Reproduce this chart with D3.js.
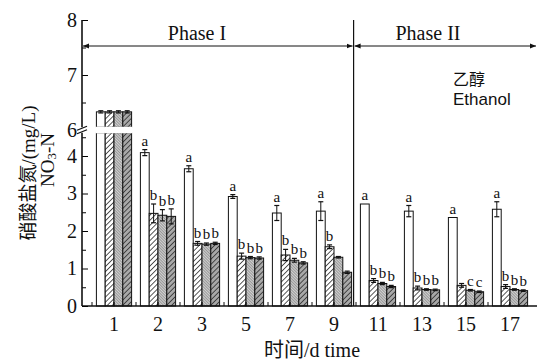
<!DOCTYPE html>
<html>
<head>
<meta charset="utf-8">
<script src="https://cdn.jsdelivr.net/npm/d3@7"></script>
<style>
  body { margin: 0; background: #fff; }
  svg { display: block; }
  text { font-family: "Liberation Serif", "Noto Sans CJK SC", serif; fill: #111; }
</style>
</head>
<body>
<svg width="537" height="363"></svg>
<script>
const days = ["1", "2", "3", "5", "7", "9", "11", "13", "15", "17"];
const keys = ["s1", "s2", "s3", "s4"];

const s1 = [6.33, 4.09, 3.66, 2.92, 2.48, 2.53, 2.72, 2.53, 2.36, 2.58];
const s2 = [6.33, 2.47, 1.67, 1.33, 1.36, 1.58, 0.68, 0.48, 0.55, 0.52];
const s3 = [6.33, 2.42, 1.65, 1.29, 1.22, 1.30, 0.60, 0.44, 0.42, 0.44];
const s4 = [6.33, 2.39, 1.67, 1.28, 1.15, 0.90, 0.52, 0.43, 0.38, 0.41];

const e1 = [0.02, 0.08, 0.08, 0.05, 0.2, 0.25, 0, 0.15, 0, 0.2];
const e2 = [0.02, 0.25, 0.05, 0.08, 0.15, 0.05, 0.05, 0.05, 0.05, 0.05];
const e3 = [0.02, 0.15, 0.03, 0.03, 0.05, 0.02, 0.03, 0.02, 0.02, 0.02];
const e4 = [0.02, 0.2, 0.03, 0.03, 0.03, 0.03, 0.03, 0.02, 0.02, 0.02];

const lab1 = ["", "a", "a", "a", "a", "a", "a", "a", "a", "a"];
const lab2 = ["", "b", "b", "b", "b", "b", "b", "b", "", "b"];
const lab3 = ["", "b", "b", "b", "b", "", "b", "b", "c", "b"];
const lab4 = ["", "b", "b", "b", "b", "", "b", "b", "c", "b"];

const lowTicks = [0, 1, 2, 3, 4];
const lowMinor = [0.5, 1.5, 2.5, 3.5, 4.5];
const highTicks = [6, 7, 8];
const highMinor = [6.5, 7.5];

const vals = [s1, s2, s3, s4];
const errs = [e1, e2, e3, e4];
const labs = [lab1, lab2, lab3, lab4];

const data = days.map((d, i) => ({
  day: d,
  bars: keys.map((k, j) => ({ key: k, day: d, value: vals[j][i], err: errs[j][i], lab: labs[j][i] }))
}));

const svg = d3.select("svg");
const left = 82, right = 537, bottom = 306;

// broken y axis
const LOWMAX = 4.62, HIGHMIN = 6.05;
const yLow = d3.scaleLinear().domain([0, LOWMAX]).range([bottom, bottom - LOWMAX * 37.5]);
const yHigh = d3.scaleLinear().domain([7, 8]).range([75, 20]);
const y = v => (v <= LOWMAX ? yLow(v) : yHigh(v));

const x = d3.scaleBand().domain(days).range([92, 532]).paddingInner(0.2).paddingOuter(0.1);
const xs = d3.scaleBand().domain(keys).range([0, x.bandwidth()]);

// patterns
const defs = svg.append("defs");
function hatch(id, bg, color, w, sw, angle) {
  const p = defs.append("pattern").attr("id", id)
    .attr("patternUnits", "userSpaceOnUse")
    .attr("width", w).attr("height", w)
    .attr("patternTransform", `rotate(${angle})`);
  p.append("rect").attr("width", w).attr("height", w).attr("fill", bg);
  p.append("line").attr("x1", 0).attr("y1", 0).attr("x2", 0).attr("y2", w)
    .attr("stroke", color).attr("stroke-width", sw);
}
hatch("p2", "#fff", "#111", 3.6, 1.4, 45);
hatch("p3", "#d0d0d0", "#555", 2, 0.9, -45);
hatch("p4", "#a8a8a8", "#111", 3.6, 1.3, 45);
const fills = { s1: "#fff", s2: "url(#p2)", s3: "url(#p3)", s4: "url(#p4)" };

// bars
const groups = svg.append("g").selectAll("g")
  .data(data).join("g")
  .attr("transform", d => `translate(${x(d.day)},0)`);

groups.each(function (g) {
  const sel = d3.select(this);
  g.bars.forEach(b => {
    const bx = xs(b.key), bw = xs.bandwidth();
    if (b.value > LOWMAX) {
      sel.append("rect").attr("x", bx).attr("y", yLow(LOWMAX)).attr("width", bw)
        .attr("height", yLow(0) - yLow(LOWMAX))
        .attr("fill", fills[b.key]).attr("stroke", "#111").attr("stroke-width", 1);
      sel.append("rect").attr("x", bx).attr("y", yHigh(b.value)).attr("width", bw)
        .attr("height", yHigh(HIGHMIN) - yHigh(b.value))
        .attr("fill", fills[b.key]).attr("stroke", "#111").attr("stroke-width", 1);
      // hide bottom/top edges at the break
      sel.append("rect").attr("x", bx - 1).attr("y", yHigh(HIGHMIN) - 0.5)
        .attr("width", bw + 2).attr("height", yLow(LOWMAX) - yHigh(HIGHMIN) + 1)
        .attr("fill", "#fff");
    } else {
      sel.append("rect").attr("x", bx).attr("y", yLow(b.value)).attr("width", bw)
        .attr("height", yLow(0) - yLow(b.value))
        .attr("fill", fills[b.key]).attr("stroke", "#111").attr("stroke-width", 1);
    }
    // error bar
    const cx = bx + bw / 2;
    const top = y(b.value + b.err), bot = y(b.value - b.err);
    if (b.err > 0) {
      sel.append("line").attr("x1", cx).attr("x2", cx).attr("y1", top).attr("y2", bot)
        .attr("stroke", "#111").attr("stroke-width", 1);
      [top, bot].forEach(yy => sel.append("line")
        .attr("x1", cx - 2.5).attr("x2", cx + 2.5).attr("y1", yy).attr("y2", yy)
        .attr("stroke", "#111").attr("stroke-width", 1.2));
    }
    if (b.lab) {
      sel.append("text").attr("x", cx).attr("y", Math.min(top, y(b.value)) - 4)
        .attr("text-anchor", "middle").attr("font-size", 15).text(b.lab);
    }
  });
});

// x axis
const xAxis = d3.axisBottom(x).tickSizeInner(-4).tickSizeOuter(0).tickPadding(11);
const gx = svg.append("g").attr("transform", `translate(0,${bottom})`).call(xAxis);
gx.select(".domain").remove();
gx.selectAll("text").attr("font-size", 20).style("font-family", "Liberation Serif");
gx.selectAll("line").attr("stroke-width", 1);
const mids = days.slice(0, -1).map((d, i) => x(d) + x.bandwidth() + (x.step() - x.bandwidth()) / 2);
mids.unshift(x(days[0]) - (x.step() - x.bandwidth()) / 2);
gx.selectAll(".mid").data(mids).join("line").attr("class", "mid")
  .attr("x1", d => d).attr("x2", d => d).attr("y1", 0).attr("y2", -4)
  .attr("stroke", "#111");
svg.append("line").attr("x1", left).attr("x2", right).attr("y1", bottom).attr("y2", bottom)
  .attr("stroke", "#111").attr("stroke-width", 1.6);

// y axes
const fmt = d3.format("d");
const gyl = svg.append("g").attr("transform", `translate(${left},0)`)
  .call(d3.axisLeft(yLow).tickValues(lowTicks).tickFormat(fmt).tickSizeInner(-6).tickSizeOuter(0).tickPadding(5));
const gylm = svg.append("g").attr("transform", `translate(${left},0)`)
  .call(d3.axisLeft(yLow).tickValues(lowMinor).tickSizeInner(-4).tickSizeOuter(0).tickFormat(""));
const gyh = svg.append("g").attr("transform", `translate(${left},0)`)
  .call(d3.axisLeft(yHigh).tickValues(highTicks).tickFormat(fmt).tickSizeInner(-6).tickSizeOuter(0).tickPadding(5));
const gyhm = svg.append("g").attr("transform", `translate(${left},0)`)
  .call(d3.axisLeft(yHigh).tickValues(highMinor).tickSizeInner(-4).tickSizeOuter(0).tickFormat(""));
[gyl, gylm, gyh, gyhm].forEach(g => {
  g.select(".domain").remove();
  g.selectAll("text").attr("font-size", 20).style("font-family", "Liberation Serif");
});
gyh.selectAll(".tick").filter(d => d === 6).select("line").remove();

svg.append("line").attr("x1", left).attr("x2", left).attr("y1", yLow(0)).attr("y2", yLow(LOWMAX))
  .attr("stroke", "#111").attr("stroke-width", 1.6);
svg.append("line").attr("x1", left).attr("x2", left).attr("y1", yHigh(HIGHMIN)).attr("y2", yHigh(8))
  .attr("stroke", "#111").attr("stroke-width", 1.6);
[yHigh(HIGHMIN) + 1, yLow(LOWMAX) - 1].forEach(yy => svg.append("line")
  .attr("x1", left - 5).attr("x2", left + 5).attr("y1", yy + 2).attr("y2", yy - 2)
  .attr("stroke", "#111").attr("stroke-width", 1.3));

// phase divider and arrows
const divX = x("9") + x.bandwidth() + 2;
svg.append("line").attr("x1", divX).attr("x2", divX).attr("y1", 20).attr("y2", bottom)
  .attr("stroke", "#111").attr("stroke-width", 1.2);

["arrL", "arrR"].forEach((id, i) => {
  defs.append("marker").attr("id", id).attr("viewBox", "0 0 10 10")
    .attr("refX", i ? 10 : 0).attr("refY", 5).attr("markerWidth", 6).attr("markerHeight", 6)
    .attr("markerUnits", "userSpaceOnUse").attr("orient", "auto")
    .append("path").attr("d", i ? "M0,1L10,5L0,9Z" : "M10,1L0,5L10,9Z").attr("fill", "#111");
});
const arrowY = 46;
[[left + 1, divX - 1], [divX + 1, right - 1]].forEach(([a, b]) => {
  svg.append("line").attr("x1", a).attr("x2", b).attr("y1", arrowY).attr("y2", arrowY)
    .attr("stroke", "#111").attr("stroke-width", 1)
    .attr("marker-start", "url(#arrL)").attr("marker-end", "url(#arrR)");
});
svg.append("text").attr("x", 197).attr("y", 40).attr("text-anchor", "middle")
  .attr("font-size", 20).text("Phase I");
svg.append("text").attr("x", 428).attr("y", 40).attr("text-anchor", "middle")
  .attr("font-size", 20).text("Phase II");

svg.append("text").attr("x", 453).attr("y", 85).attr("font-size", 16)
  .style("font-family", "Noto Sans CJK SC").text("乙醇");
svg.append("text").attr("x", 453).attr("y", 105).attr("font-size", 17)
  .style("font-family", "Liberation Sans").text("Ethanol");

// axis titles
svg.append("text").attr("transform", "translate(28,173) rotate(-90)")
  .attr("text-anchor", "middle").attr("dominant-baseline", "central")
  .attr("font-size", 19).text("硝酸盐氮/(mg/L)");
const t2 = svg.append("text").attr("transform", "translate(47,160) rotate(-90)")
  .attr("text-anchor", "middle").attr("dominant-baseline", "central")
  .attr("font-size", 19);
t2.append("tspan").text("NO");
t2.append("tspan").attr("font-size", 13).attr("dy", 4).text("3");
t2.append("tspan").attr("dy", -4).text("-N");

svg.append("text").attr("x", 312).attr("y", 357).attr("text-anchor", "middle")
  .attr("font-size", 20).text("时间/d time");
</script>
</body>
</html>
